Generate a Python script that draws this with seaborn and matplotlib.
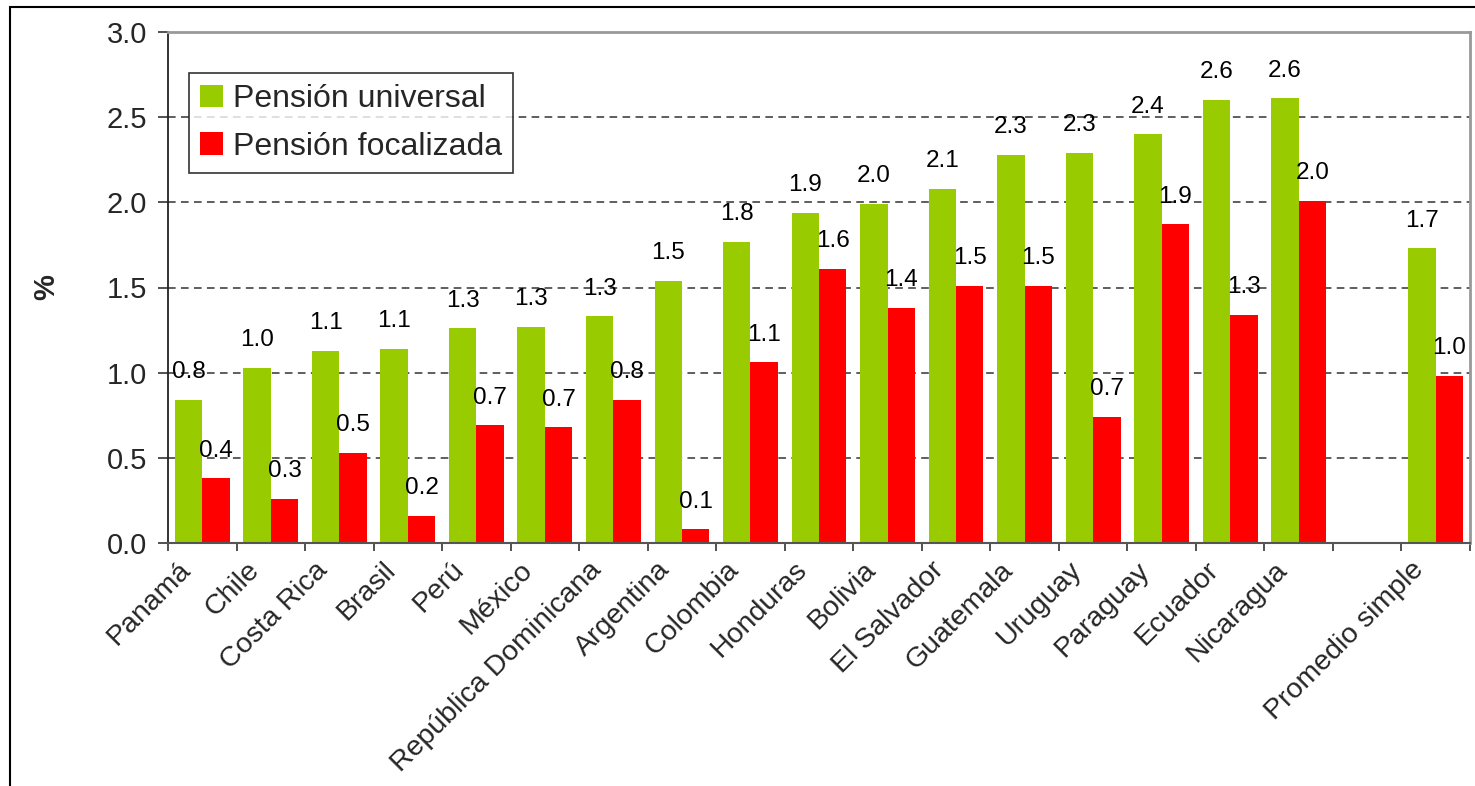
import matplotlib
matplotlib.use("Agg")
import matplotlib.pyplot as plt
import matplotlib.transforms as mtransforms
from matplotlib.patches import Rectangle
from matplotlib.ticker import FixedLocator
import seaborn as sns
import pandas as pd

# ---- data ----
paises = ["Panamá", "Chile", "Costa Rica", "Brasil", "Perú", "México",
          "República Dominicana", "Argentina", "Colombia", "Honduras",
          "Bolivia", "El Salvador", "Guatemala", "Uruguay", "Paraguay",
          "Ecuador", "Nicaragua", "Promedio simple"]
pension_universal = [0.84, 1.03, 1.13, 1.14, 1.26, 1.27, 1.33, 1.54, 1.77, 1.94,
                     1.99, 2.08, 2.28, 2.29, 2.40, 2.60, 2.61, 1.73]
pension_focalizada = [0.38, 0.26, 0.53, 0.16, 0.69, 0.68, 0.84, 0.08, 1.06, 1.61,
                      1.38, 1.51, 1.51, 0.74, 1.87, 1.34, 2.01, 0.98]
series = ["Pensión universal", "Pensión focalizada"]
orden = paises[:-1] + [" "] + paises[-1:]
y_ticks = [0.0, 0.5, 1.0, 1.5, 2.0, 2.5, 3.0]

df = pd.DataFrame({
    "pais": paises * 2,
    "serie": [series[0]] * len(paises) + [series[1]] * len(paises),
    "valor": pension_universal + pension_focalizada,
})

sns.set_theme(style="white")
plt.rcParams["font.family"] = ["Liberation Sans", "DejaVu Sans"]

W, H = 1475, 786
fig = plt.figure(figsize=(W / 100, H / 100), dpi=100)
ax = fig.add_axes([168 / W, 1 - 543 / H, (1470 - 168) / W, (543 - 32) / H])

sns.barplot(data=df, x="pais", y="valor", hue="serie", order=orden,
            hue_order=series, palette=["#99CC00", "#FF0000"], saturation=1,
            width=0.8, errorbar=None, linewidth=0, ax=ax)

for cont in ax.containers:
    ax.bar_label(cont, fmt="%.1f", padding=12, fontsize=17.5, color="black")

ax.set_xlim(-0.5, len(orden) - 0.5)
ax.set_ylim(0, 3.0)
ax.set_yticks(y_ticks)
ax.set_yticklabels([f"{v:.1f}" for v in y_ticks], fontsize=21)
ax.yaxis.grid(True, linestyle=(0, (5, 3.5)), color="#333333", linewidth=1.1)
ax.set_axisbelow(True)

ax.set_xlabel("")
ax.set_ylabel("%", fontsize=21, fontweight="bold", labelpad=0)
ax.yaxis.set_label_coords(-0.083, 0.5)

# x tick labels rotated, tick marks at category boundaries
ax.tick_params(axis="x", which="major", length=0, pad=10)
ax.xaxis.set_minor_locator(FixedLocator([i - 0.5 for i in range(len(orden) + 1)]))
ax.tick_params(axis="x", which="minor", length=6, width=1.2, color="#333333",
               direction="out", bottom=True)
ax.tick_params(axis="y", length=7, width=1.2, color="#333333", direction="out",
               left=True, pad=8)
offset = mtransforms.ScaledTranslation(-25 / 100, 0, fig.dpi_scale_trans)
for lab in ax.get_xticklabels():
    lab.set_rotation(45)
    lab.set_ha("right")
    lab.set_va("top")
    lab.set_rotation_mode("anchor")
    lab.set_fontsize(20.5)
    lab.set_transform(lab.get_transform() + offset)

for side in ["top", "right"]:
    ax.spines[side].set_color("#999999")
    ax.spines[side].set_linewidth(2)
ax.spines["left"].set_color("#222222")
ax.spines["left"].set_linewidth(1.3)
ax.spines["bottom"].set_color("#555555")
ax.spines["bottom"].set_linewidth(1.5)

leg = ax.legend(loc="upper left", bbox_to_anchor=(0.016, 0.92), borderaxespad=0,
                fontsize=23, frameon=True, fancybox=False, edgecolor="black",
                handlelength=0.72, handleheight=0.72, handletextpad=0.3,
                labelspacing=0.55, borderpad=0.35, title=None)
leg.get_frame().set_linewidth(1.2)

fig.add_artist(Rectangle((10 / W, -0.1), 2, 1 - 7 / H + 0.1,
                         transform=fig.transFigure, fill=False,
                         edgecolor="black", linewidth=1.5))

fig.savefig("out.png", dpi=100)
